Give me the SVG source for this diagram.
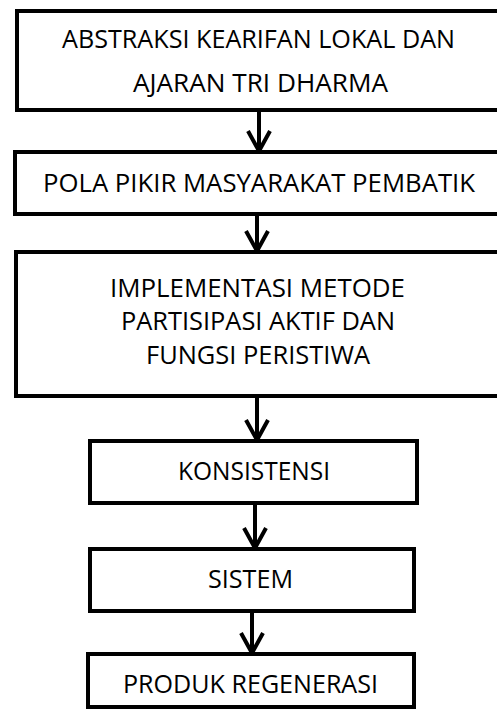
<svg xmlns="http://www.w3.org/2000/svg" width="497" height="711" viewBox="0 0 497 711">
<style>
.box{fill:#fff;stroke:#000;stroke-width:4}
.lbl{font-family:"Open Sans","Liberation Sans",sans-serif;font-size:25.5px;fill:#000;text-anchor:middle}
.con{stroke:#000;stroke-width:4;fill:none}
</style>
<defs>
<marker id="arr" viewBox="-24 -14 28 28" refX="0" refY="0" markerUnits="userSpaceOnUse" markerWidth="28" markerHeight="28" orient="auto" overflow="visible">
<path d="M-20,-11 L0,0 L-20,11" fill="none" stroke="#000" stroke-width="4" stroke-linejoin="miter"/>
</marker>
</defs>
<rect width="497" height="711" fill="#fff"/>
<g id="connectors">
<line class="con" x1="259" y1="112" x2="259" y2="151" marker-end="url(#arr)"/>
<line class="con" x1="257" y1="216" x2="257" y2="251" marker-end="url(#arr)"/>
<line class="con" x1="257" y1="398" x2="257" y2="440" marker-end="url(#arr)"/>
<line class="con" x1="255" y1="504" x2="255" y2="548" marker-end="url(#arr)"/>
<line class="con" x1="252" y1="613" x2="252" y2="653" marker-end="url(#arr)"/>
</g>
<g id="n1">
<rect class="box" x="17" y="11" width="500" height="99"/>
<text class="lbl" x="258.5" y="48" textLength="393" lengthAdjust="spacingAndGlyphs">ABSTRAKSI KEARIFAN LOKAL DAN</text>
<text class="lbl" x="260.5" y="92" textLength="255" lengthAdjust="spacingAndGlyphs">AJARAN TRI DHARMA</text>
</g>
<g id="n2">
<rect class="box" x="15" y="152" width="502" height="62"/>
<text class="lbl" x="259" y="192" textLength="432" lengthAdjust="spacingAndGlyphs">POLA PIKIR MASYARAKAT PEMBATIK</text>
</g>
<g id="n3">
<rect class="box" x="16" y="252" width="501" height="144"/>
<text class="lbl" x="257.5" y="297" textLength="295" lengthAdjust="spacingAndGlyphs">IMPLEMENTASI METODE</text>
<text class="lbl" x="258" y="330" textLength="274" lengthAdjust="spacingAndGlyphs">PARTISIPASI AKTIF DAN</text>
<text class="lbl" x="258" y="364" textLength="224" lengthAdjust="spacingAndGlyphs">FUNGSI PERISTIWA</text>
</g>
<g id="n4">
<rect class="box" x="90" y="441" width="327" height="62"/>
<text class="lbl" x="254" y="480" textLength="152" lengthAdjust="spacingAndGlyphs">KONSISTENSI</text>
</g>
<g id="n5">
<rect class="box" x="90" y="549" width="324" height="62"/>
<text class="lbl" x="250.5" y="588" textLength="85" lengthAdjust="spacingAndGlyphs">SISTEM</text>
</g>
<g id="n6">
<rect class="box" x="88" y="654" width="326" height="53"/>
<text class="lbl" x="250.5" y="693" textLength="255" lengthAdjust="spacingAndGlyphs">PRODUK REGENERASI</text>
</g>
</svg>
